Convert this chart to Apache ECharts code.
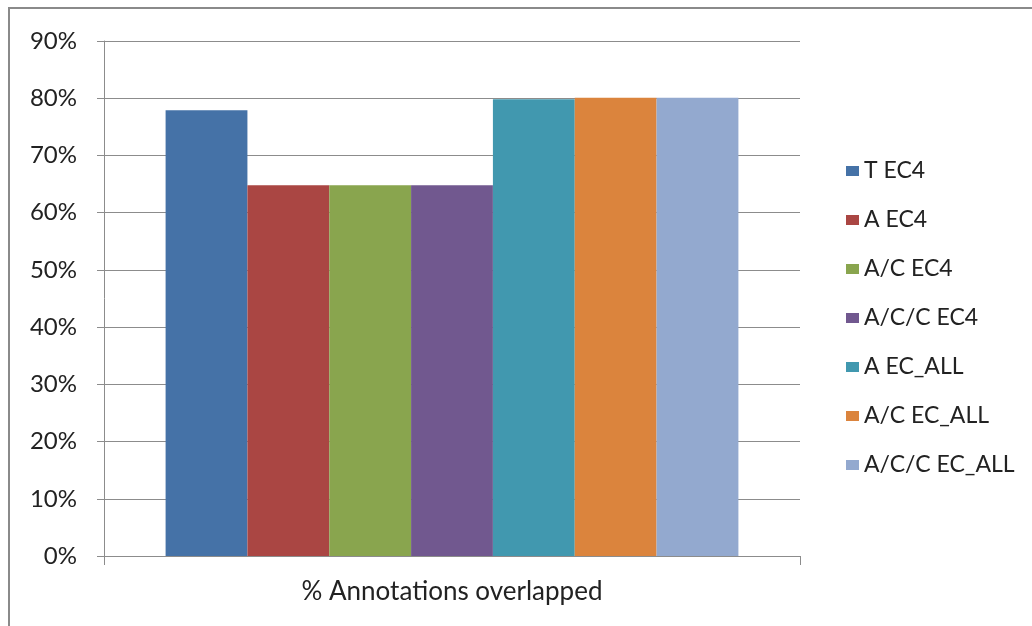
<!DOCTYPE html>
<html><head><meta charset="utf-8">
<script src="https://cdn.jsdelivr.net/npm/echarts@6/dist/echarts.min.js"></script>
<style>html,body{margin:0;padding:0;background:#fff}#c{width:1032px;height:626px}</style>
</head><body><div id="c"></div>
<script>
var categories = ['% Annotations overlapped'];
var seriesNames = ['T EC4','A EC4','A/C EC4','A/C/C EC4','A EC_ALL','A/C EC_ALL','A/C/C EC_ALL'];
var seriesValues = [0.779, 0.648, 0.648, 0.648, 0.798, 0.801, 0.801];
var colors = ['#4572A7','#AA4643','#89A54E','#71588F','#4198AF','#DB843D','#93A9CF'];

var font = 'Lato';
var chart = echarts.init(document.getElementById('c'));
chart.setOption({
  animation: false,
  color: colors,
  textStyle: {fontFamily: font},
  graphic: [{type:'rect', shape:{x:9, y:8, width:1040, height:640}, style:{fill:'none', stroke:'#8a8a8a', lineWidth:2}, silent:true}],
  grid: {left:104, right:232, top:41, bottom:70, containLabel:false},
  legend: {
    orient:'vertical', left:846, top:159, padding:0, itemWidth:13, itemHeight:10, itemGap:25,
    icon:'rect',
    textStyle:{fontFamily:font, fontSize:23, lineHeight:24, color:'#222'},
    data: seriesNames
  },
  xAxis: {
    type:'category', data: categories,
    axisLine:{lineStyle:{color:'#8c8c8c'}},
    axisTick:{show:true, length:9, lineStyle:{color:'#8c8c8c'}},
    axisLabel:{fontFamily:font, fontSize:26, color:'#222', margin:23}
  },
  yAxis: {
    type:'value', min:0, max:0.9, interval:0.1,
    axisLine:{show:true, lineStyle:{color:'#8c8c8c'}},
    axisTick:{show:true, length:7, lineStyle:{color:'#8c8c8c'}},
    splitLine:{lineStyle:{color:'#8c8c8c'}},
    axisLabel:{fontFamily:font, fontSize:24, color:'#222', margin:27,
      formatter:function(v){return Math.round(v*100)+'%';}}
  },
  series: seriesNames.map(function(n,i){
    return {name:n, type:'bar', data:[seriesValues[i]], barGap:'0%', barCategoryGap:'17.7%'};
  })
});
</script></body></html>
